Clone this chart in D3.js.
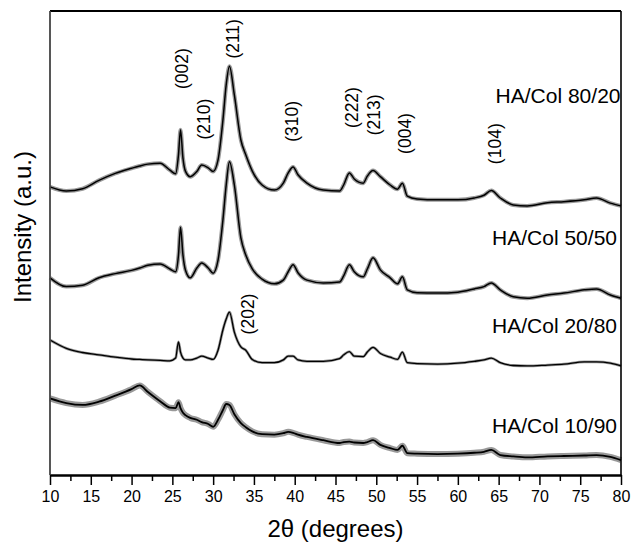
<!DOCTYPE html>
<html>
<head>
<meta charset="utf-8">
<script src="https://cdn.jsdelivr.net/npm/d3@7"></script>
<style>
  html, body { margin: 0; padding: 0; background: #fff; }
  svg { display: block; font-family: "Liberation Sans", Arial, Helvetica, sans-serif; }
</style>
</head>
<body>
<div id="chart"></div>
<script>
// ---------------- DATA ----------------
const angles = [10, 12, 14, 16, 18, 20, 21, 22, 23.5, 24.7, 25.4, 25.75, 26, 26.3, 26.6,
  27.2, 28, 28.6, 29.4, 30, 30.6, 31.2, 31.6, 32, 32.6, 33.4, 34, 34.8,
  36, 37.5, 38.6, 39.2, 39.8, 40.4, 41.5, 43.5, 45.5, 46, 46.7, 47.3,
  48.4, 48.9, 49.6, 50.5, 51.7, 52.6, 53.2, 53.8, 55, 57.5, 60, 62, 63.2, 64.1, 65.2,
  66.8, 68.5, 71, 73, 75.5, 77, 78.7, 80];

const hacol8020 = [62.1, 61.2, 61.7, 63.5, 65.0, 66.1, 66.6, 67.0, 67.2, 65.7, 64.9, 69.0, 74.4, 68.3, 65.5,
  64.3, 65.4, 66.8, 66.2, 65.4, 67.9, 76.5, 84.1, 88.1, 81.9, 72.2, 69.0, 65.5,
  62.5, 61.4, 62.9, 65.1, 66.4, 64.7, 62.9, 61.4, 61.2, 62.5, 65.1, 63.8,
  62.9, 64.4, 65.6, 64.3, 62.5, 61.6, 62.9, 60.1, 59.5, 59.3, 59.3, 59.7, 60.3, 61.3, 59.7,
  58.2, 58.0, 58.7, 58.9, 59.3, 59.7, 58.6, 58.0];

const hacol5050 = [42.5, 40.6, 40.9, 42.5, 43.4, 44.1, 44.6, 45.2, 45.5, 44.4, 43.8, 47.4, 53.4, 47.4, 44.2,
  42.5, 44.6, 45.7, 44.6, 43.5, 46.3, 55.0, 62.5, 67.5, 62.5, 51.1, 47.4, 44.4,
  42.2, 41.2, 42.0, 43.8, 45.3, 43.6, 42.0, 41.4, 41.6, 42.9, 45.3, 43.8,
  42.7, 44.4, 46.8, 44.2, 42.5, 41.2, 42.7, 39.9, 39.3, 39.2, 39.4, 40.1, 40.6, 41.4, 39.9,
  38.4, 38.1, 38.8, 39.2, 39.9, 40.1, 38.8, 38.1];

const hacol2080 = [29.1, 27.3, 26.4, 25.9, 25.4, 25.0, 24.9, 24.8, 24.7, 24.6, 25.2, 28.7, 26.5, 25.2, 24.8,
  24.8, 25.2, 25.6, 25.2, 24.9, 26.9, 31.3, 33.6, 35.1, 30.8, 27.6, 26.9, 24.9,
  24.2, 24.2, 24.8, 25.6, 25.6, 24.8, 24.5, 24.5, 25.1, 25.9, 26.6, 25.6,
  25.5, 26.5, 27.5, 26.2, 25.4, 24.9, 26.5, 24.2, 24.0, 23.9, 24.1, 24.5, 24.8, 25.2, 24.2,
  23.6, 23.5, 23.7, 23.9, 24.4, 24.4, 24.1, 23.5];

const hacol1090 = [16.5, 15.5, 15.1, 15.8, 17.1, 18.5, 19.3, 17.9, 15.9, 14.5, 14.4, 15.7, 14.4, 13.4, 12.9,
  12.3, 11.9, 11.4, 11.0, 10.4, 11.9, 14.0, 15.3, 15.1, 13.1, 11.2, 10.3, 9.4,
  8.8, 8.7, 9.0, 9.3, 9.1, 8.7, 8.2, 7.5, 6.9, 7.1, 7.2, 7.0,
  6.9, 7.1, 7.5, 6.5, 5.8, 5.4, 6.3, 4.7, 4.6, 4.5, 4.6, 4.8, 5.0, 5.4, 4.3,
  4.0, 3.8, 4.0, 4.1, 4.2, 4.3, 3.9, 3.2];

const seriesNames = ["HA/Col 80/20", "HA/Col 50/50", "HA/Col 20/80", "HA/Col 10/90"];

const peakLabels = ["(002)", "(210)", "(211)", "(310)", "(222)", "(213)", "(004)", "(104)", "(202)"];
const peakAngles = [26.2, 28.9, 32.4, 39.7, 47.0, 49.7, 53.5, 64.5, 34.3];

const xTickValues = [10, 15, 20, 25, 30, 35, 40, 45, 50, 55, 60, 65, 70, 75, 80];
const xMinorTicks = [12.5, 17.5, 22.5, 27.5, 32.5, 37.5, 42.5, 47.5, 52.5, 57.5, 62.5, 67.5, 72.5, 77.5];

// ---------------- LAYOUT ----------------
const W = 631, H = 547;
const m = { left: 50, right: 10, top: 11, bottom: 72 };
const x = d3.scaleLinear().domain([10, 80]).range([m.left, W - m.right]);
const y = d3.scaleLinear().domain([0, 100]).range([H - m.bottom, m.top]);

const seriesValues = [hacol8020, hacol5050, hacol2080, hacol1090];
const haloWidth = [4, 4, 2.8, 6];
const coreWidth = [1.5, 1.5, 1.3, 1.8];
// label placement (intensity units for baseline) and small x nudge
const seriesLabelY = [80.2, 49.6, 30.6, 9.1];
const seriesLabelDx = [-0.5, -4, -4, -4];
const peakLabelY = [87.6, 76.7, 94.0, 76.2, 79.2, 77.6, 73.6, 71.4, 34.7];

const svg = d3.select("#chart").append("svg")
  .attr("width", W).attr("height", H);

// traces
const line = d3.line()
  .x((d, i) => x(angles[i]))
  .y(d => y(d))
  .curve(d3.curveMonotoneX);

seriesValues.forEach((vals, k) => {
  svg.append("path")
    .datum(vals)
    .attr("d", line)
    .attr("fill", "none")
    .attr("stroke", "#777")
    .attr("stroke-opacity", 0.75)
    .attr("stroke-width", haloWidth[k])
    .attr("stroke-linejoin", "round");
  svg.append("path")
    .datum(vals)
    .attr("d", line)
    .attr("fill", "none")
    .attr("stroke", "#000")
    .attr("stroke-width", coreWidth[k])
    .attr("stroke-linejoin", "round");
});

// frame: top and right lines
svg.append("line")
  .attr("x1", x(10)).attr("x2", x(80))
  .attr("y1", y(100)).attr("y2", y(100))
  .attr("stroke", "#000").attr("stroke-width", 2);
svg.append("line")
  .attr("x1", x(80)).attr("x2", x(80))
  .attr("y1", y(100)).attr("y2", y(0))
  .attr("stroke", "#000").attr("stroke-width", 1.6);
// left axis line (no ticks)
svg.append("line")
  .attr("x1", x(10)).attr("x2", x(10))
  .attr("y1", y(100)).attr("y2", y(0))
  .attr("stroke", "#444").attr("stroke-width", 1.8);

// bottom axis
const xAxis = d3.axisBottom(x)
  .tickValues(xTickValues)
  .tickSize(10)
  .tickSizeOuter(0)
  .tickPadding(6)
  .tickFormat(d3.format("d"));
const gx = svg.append("g")
  .attr("transform", `translate(0,${y(0)})`)
  .call(xAxis);
gx.select(".domain").attr("stroke", "#000").attr("stroke-width", 2.5);
gx.selectAll(".tick line").attr("stroke", "#000").attr("stroke-width", 1.5);
gx.selectAll(".tick text")
  .attr("fill", "#000")
  .style("font-size", "16px")
  .style("font-family", "'Liberation Sans', Arial, sans-serif");

const minorAxis = d3.axisBottom(x)
  .tickValues(xMinorTicks)
  .tickSize(6)
  .tickSizeOuter(0)
  .tickFormat("");
const gm = svg.append("g")
  .attr("transform", `translate(0,${y(0)})`)
  .call(minorAxis);
gm.select(".domain").remove();
gm.selectAll(".tick line").attr("stroke", "#000").attr("stroke-width", 1.5);

// axis titles
svg.append("text")
  .attr("x", (x(10) + x(80)) / 2)
  .attr("y", 537)
  .attr("text-anchor", "middle")
  .style("font-size", "24px")
  .text("2θ (degrees)");

svg.append("text")
  .attr("transform", `translate(31, 227) rotate(-90)`)
  .attr("text-anchor", "middle")
  .style("font-size", "24px")
  .text("Intensity (a.u.)");

// series labels
seriesNames.forEach((name, k) => {
  svg.append("text")
    .attr("x", x(80) + seriesLabelDx[k])
    .attr("y", y(seriesLabelY[k]))
    .attr("text-anchor", "end")
    .style("font-size", "21px")
    .text(name);
});

// peak (hkl) labels
peakLabels.forEach((lab, k) => {
  svg.append("text")
    .attr("transform", `translate(${x(peakAngles[k])}, ${y(peakLabelY[k])}) rotate(-90)`)
    .attr("text-anchor", "middle")
    .attr("dy", "0.35em")
    .style("font-size", "17.5px")
    .text(lab);
});
</script>
</body>
</html>
